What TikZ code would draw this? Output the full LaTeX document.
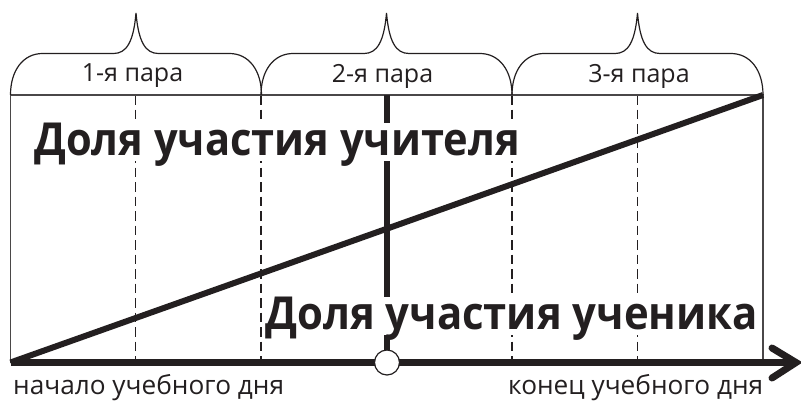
\documentclass[tikz,border=0pt]{standalone}
\usepackage{fontspec}
\usepackage{graphicx}
\setmainfont{Open Sans}
\definecolor{ink}{HTML}{231F20}
\definecolor{frame}{HTML}{4A4748}
\tikzset{
  thin line/.style={draw=frame,line width=1.5pt},
  dash line/.style={draw=ink,line width=1.1pt,dash pattern=on 9.5pt off 5pt},
  thick line/.style={draw=ink,line width=7pt},
  bracecurve/.style={draw=ink,line width=1.2pt},
  pairlabel/.style={font=\fontsize{25}{25}\selectfont,text=ink,inner sep=0pt},
  dayLabel/.style={font=\fontsize{26.2}{26.2}\selectfont,text=ink,inner sep=0pt,anchor=base west},
  share/.style={font=\fontsize{45.5}{45.5}\selectfont\bfseries,text=ink,fill=white,inner sep=0pt,text height=32pt,text depth=6pt}
}
\newcommand{\pairbrace}[1]{%
  \draw[bracecurve,shift={(#1,0)}] (0,95) .. controls (0,70) and (13,53.5) .. (32,53.5)
    -- (103,53.5) .. controls (116,53.5) and (123,42) .. (125.5,13)
    .. controls (128,42) and (135,53.5) .. (148,53.5)
    -- (219,53.5) .. controls (238,53.5) and (251,70) .. (251,95);}
\begin{document}
\begin{tikzpicture}[x=1pt,y=-1pt]
\useasboundingbox (0,0) rectangle (801,400);
\coordinate (tl) at (10.5,95); \coordinate (tr) at (763,95);
\coordinate (bl) at (10.5,362.5); \coordinate (br) at (763,362.5);
\coordinate (tip) at (797,362.5);
\coordinate (midtop) at (387,95); \coordinate (midbot) at (387,362.5);
\foreach \x in {135.5,261,512,637.5} \draw[dash line] (\x,95) -- (\x,362);
\draw[thin line] (bl) -- (tl) -- (tr) -- (br);
\draw[thick line,line width=6pt] (midtop) -- (midbot);
\pairbrace{10.5}\pairbrace{261}\pairbrace{512}
\draw[thick line,line width=6pt] (bl) -- (tr);
\node[share,anchor=base west] (upper) at (34,155) {\scalebox{0.915}[1]{Доля участия учителя}};
\node[share,anchor=base west] (lower) at (265,329) {\scalebox{0.92}[1]{Доля участия ученика}};
\draw[thick line] (bl) -- (tip);
\draw[thick line,line cap=round,line join=miter] (772,348) -- (796,362.5) -- (772,378);
\node[circle,draw=ink,line width=1.2pt,fill=white,minimum size=25pt,inner sep=0pt] (mark) at (midbot) {};
\node[pairlabel] (p1) at (132.5,76) {1-я пара};
\node[pairlabel] (p2) at (382.5,76) {2-я пара};
\node[pairlabel] (p3) at (639,76) {3-я пара};
\node[dayLabel] (start) at (13,394.5) {начало учебного дня};
\node[dayLabel] (end) at (508,394.5) {конец учебного дня};
\end{tikzpicture}
\end{document}
